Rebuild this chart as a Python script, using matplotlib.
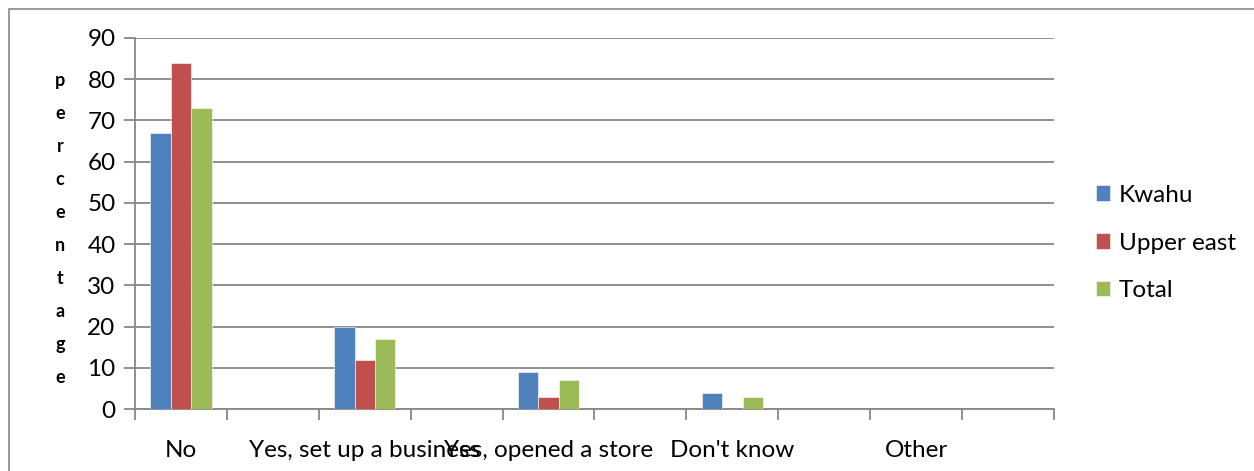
import matplotlib.pyplot as plt
from matplotlib.patches import Rectangle
import numpy as np

# survey answers (every other slot on the category axis is blank)
answers = ['No', 'Yes, set up a business', 'Yes, opened a store', "Don't know", 'Other']
kwahu = [67, 20, 9, 4, 0]
upper_east = [84, 12, 3, 0, 0]
total = [73, 17, 7, 3, 0]

series = [('Kwahu', kwahu, '#4F81BD'),
          ('Upper east', upper_east, '#C0504D'),
          ('Total', total, '#9BBB59')]

plt.rcParams['font.family'] = ['Lato', 'DejaVu Sans']
grid_col = '#878787'
fs = 17.5

fig = plt.figure(figsize=(12.54, 4.71), dpi=100)
ax = fig.add_axes([135 / 1254, 1 - 409 / 471, (1054 - 135) / 1254, (409 - 38) / 471])

# outer chart frame
fig.patches.append(Rectangle((9 / 1254, -0.1), 1.2, (471 - 9) / 471 + 0.1,
                             transform=fig.transFigure, fill=False,
                             edgecolor=grid_col, lw=1.2))

x = np.arange(len(answers)) * 2
w = 0.222
for i, (name, vals, col) in enumerate(series):
    ax.bar(x + (i - 1) * w, vals, w, color=col, label=name,
           edgecolor='white', linewidth=0.4, zorder=3)

ax.set_xlim(-0.5, 2 * len(answers) - 0.5)
ax.set_ylim(0, 90)
ax.set_yticks(range(0, 91, 10))
ax.yaxis.grid(True, color=grid_col, lw=1.3)
ax.set_axisbelow(True)

ax.set_xticks(x)
ax.set_xticklabels(answers)
ax.set_xticks(np.arange(-0.5, 2 * len(answers)), minor=True)
ax.tick_params(axis='x', which='major', length=0, pad=22, labelsize=fs)
ax.tick_params(axis='x', which='minor', length=8, width=1.3, color=grid_col)
ax.tick_params(axis='y', length=8, width=1.3, color=grid_col, pad=6, labelsize=fs)

for s in ['top', 'right']:
    ax.spines[s].set_visible(False)
for s in ['left', 'bottom']:
    ax.spines[s].set_color(grid_col)
    ax.spines[s].set_linewidth(1.3)

fig.text(60 / 1254, 1 - 229 / 471, '\n'.join('percentage'), ha='center', va='center',
         fontsize=13, fontweight='bold', linespacing=2.14)

ax.legend(loc='center left', bbox_to_anchor=(1074 / 1254, 1 - 243 / 471),
          bbox_transform=fig.transFigure, frameon=False, fontsize=fs,
          handlelength=0.6, handleheight=0.6, handletextpad=0.35, labelspacing=1.1)

fig.savefig('out.png', dpi=100)
